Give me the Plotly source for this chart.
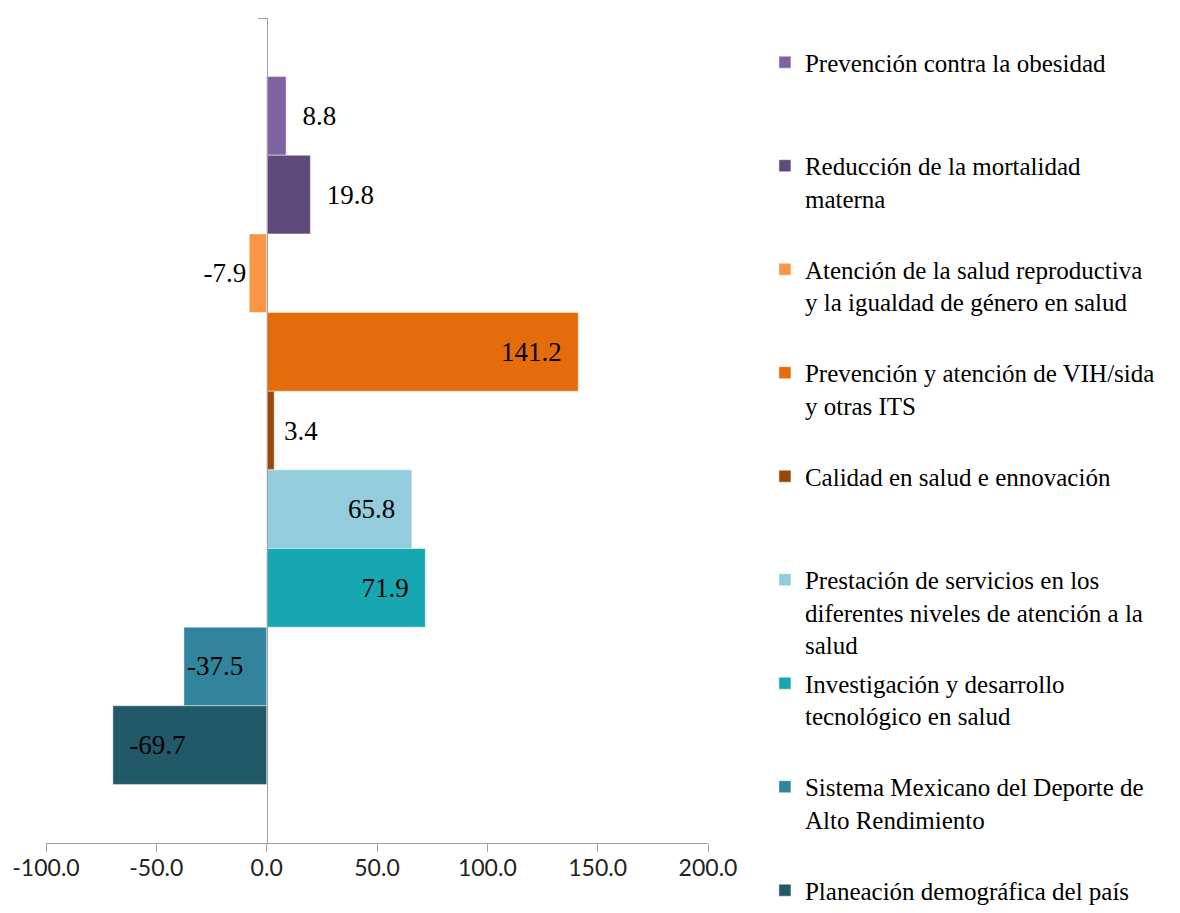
import plotly.graph_objects as go

category = ["Variación"]
series_names = [
    "Prevención contra la obesidad",
    "Reducción de la mortalidad<br>materna",
    "Atención de la salud reproductiva<br>y la igualdad de género en salud",
    "Prevención y atención de VIH/sida<br>y otras ITS",
    "Calidad en salud e ennovación",
    "Prestación de servicios en los<br>diferentes niveles de atención a la<br>salud",
    "Investigación y desarrollo<br>tecnológico en salud",
    "Sistema Mexicano del Deporte de<br>Alto Rendimiento",
    "Planeación demográfica del país",
]
values = [8.8, 19.8, -7.9, 141.2, 3.4, 65.8, 71.9, -37.5, -69.7]
x_tickvals = [-100, -50, 0, 50, 100, 150, 200]
x_ticktext = ["-100.0", "-50.0", "0.0", "50.0", "100.0", "150.0", "200.0"]

# styling
colors = ["#8064A2", "#604A7B", "#F79646", "#E46C0A", "#984807",
          "#93CDDD", "#17A7B0", "#31849B", "#215968"]
label_pos = ["outside", "outside", "outside", "inside", "outside",
             "inside", "inside", "inside", "inside"]
label_pad = [2, 2, 0, 2, 1, 2, 2, 0, 2]

NB = "\u00a0"
fig = go.Figure()
for i, (name, v, c, pos, pad) in enumerate(zip(series_names, values, colors, label_pos, label_pad)):
    nlines = name.count("<br>") + 1
    legend_text = name
    if i < len(series_names) - 1:
        legend_text = name + "<br> " * (3 - nlines)
    if pos == "outside":
        tmpl = (NB * pad + "%{x:.1f}") if v >= 0 else ("%{x:.1f}" + NB * pad)
    else:
        tmpl = ("%{x:.1f}" + NB * pad) if v >= 0 else (NB * pad + "%{x:.1f}")
    fig.add_trace(go.Bar(
        y=category, x=[v], orientation="h",
        name=legend_text, legendgroup=str(i),
        marker=dict(color=c, line=dict(color="rgba(255,255,255,0.45)", width=1)),
        texttemplate=tmpl, textposition=pos, insidetextanchor="end",
        textfont=dict(family="Liberation Serif", size=27, color="#000000"),
        cliponaxis=False,
    ))

fig.update_layout(
    width=1180, height=913,
    margin=dict(l=38, r=480, t=10, b=78, autoexpand=False),
    paper_bgcolor="white", plot_bgcolor="white",
    barmode="group", bargap=0.142, bargroupgap=0,
    showlegend=True,
    legend=dict(
        x=1.086, xanchor="left", y=0.974, yanchor="top",
        traceorder="grouped", tracegroupgap=3, valign="top",
        maxheight=1200,
        font=dict(family="Liberation Serif", size=25, color="#000000"),
        bgcolor="rgba(0,0,0,0)",
    ),
    xaxis=dict(
        range=[-100, 200], tickvals=x_tickvals, ticktext=x_ticktext,
        showgrid=False, zeroline=False,
        showline=True, linecolor="#A0A0A0", linewidth=1,
        ticks="outside", ticklen=8, tickcolor="#A0A0A0",
        ticklabelstandoff=-4,
        tickfont=dict(family="Lato", size=23, color="#222222"),
    ),
    yaxis=dict(
        type="category", range=[0.5, -0.5],
        anchor="free", position=1/3,
        showgrid=False, zeroline=False, showticklabels=False,
        showline=True, linecolor="#A0A0A0", linewidth=1,
        ticks="outside", tickson="boundaries", ticklen=9, tickcolor="#A0A0A0",
    ),
)

fig.write_html("out.html")
